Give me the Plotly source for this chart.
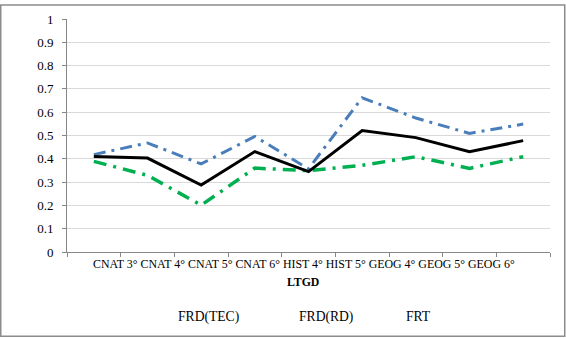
import plotly.graph_objects as go

categories = ["CNAT 3°", "CNAT 4°", "CNAT 5°", "CNAT 6°", "HIST 4°", "HIST 5°", "GEOG 4°", "GEOG 5°", "GEOG 6°"]
frd_tec = [0.418, 0.468, 0.378, 0.496, 0.357, 0.662, 0.575, 0.509, 0.549]
frd_rd = [0.389, 0.329, 0.201, 0.360, 0.349, 0.372, 0.409, 0.359, 0.409]
frt = [0.410, 0.403, 0.287, 0.431, 0.345, 0.521, 0.491, 0.430, 0.478]
series_names = ["FRD(TEC)", "FRD(RD)", "FRT"]
x_title = "LTGD"

W, H = 566, 339
L, R, T, B = 67, 16, 15, 87
pw, ph = W - L - R, H - T - B

def px(x):
    return (x - L) / pw

def py(y):
    return (H - B - y) / ph

FONT = "Liberation Serif, Times New Roman, serif"

fig = go.Figure()
fig.add_trace(go.Scatter(x=categories, y=frd_tec, mode="lines", name=series_names[0],
                         line=dict(color="#4a7ebb", width=3, dash="12px,6px,3px,6px")))
fig.add_trace(go.Scatter(x=categories, y=frd_rd, mode="lines", name=series_names[1],
                         line=dict(color="#00b050", width=3.5, dash="13px,7px,3px,7px")))
fig.add_trace(go.Scatter(x=categories, y=frt, mode="lines", name=series_names[2],
                         line=dict(color="#000000", width=3)))

annotations = [
    dict(text=" ".join(categories), x=px(303.5), y=py(264), xref="paper", yref="paper",
         xanchor="center", yanchor="middle", showarrow=False,
         font=dict(family=FONT, size=11.9, color="#000")),
    dict(text="<b>" + x_title + "</b>", x=px(302.5), y=py(283), xref="paper", yref="paper",
         xanchor="center", yanchor="middle", showarrow=False,
         font=dict(family=FONT, size=11.8, color="#000")),
]
for name, lx in zip(series_names, [176, 297, 404]):
    annotations.append(dict(text=name, x=px(lx), y=py(318), xref="paper", yref="paper",
                            xanchor="left", yanchor="middle", showarrow=False,
                            font=dict(family=FONT, size=13.6, color="#000")))

fig.update_layout(
    width=W, height=H,
    margin=dict(l=L, r=R, t=T, b=B),
    paper_bgcolor="white", plot_bgcolor="white",
    showlegend=False,
    font=dict(family=FONT),
    annotations=annotations,
    shapes=[dict(type="rect", xref="paper", yref="paper",
                 x0=px(0.75), x1=px(564.75), y0=py(337.75), y1=py(0.75),
                 line=dict(color="#8c8c8c", width=1.5), fillcolor="rgba(0,0,0,0)", layer="above")],
    xaxis=dict(type="category", range=[-0.5, len(categories) - 0.5],
               showticklabels=False, tickson="boundaries", ticks="outside", ticklen=4,
               tickcolor="#868686", showline=True, linecolor="#868686", linewidth=1,
               showgrid=False, zeroline=False, fixedrange=True),
    yaxis=dict(range=[0, 1], dtick=0.1, tick0=0, ticks="outside", ticklen=4,
               tickcolor="#868686", showline=True, linecolor="#868686", linewidth=1,
               showgrid=True, gridcolor="#d9d9d9", gridwidth=1, zeroline=False,
               tickfont=dict(family=FONT, size=13, color="#000"), ticklabelstandoff=6,
               fixedrange=True),
)

fig.write_html("out.html", config={"displayModeBar": False},
               post_script="document.body.style.margin='0';document.body.style.overflow='hidden';")
